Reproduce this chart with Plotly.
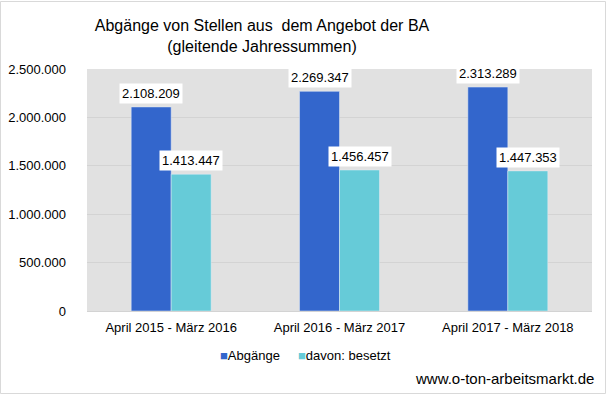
import plotly.graph_objects as go

categories = ["April 2015 - März 2016", "April 2016 - März 2017", "April 2017 - März 2018"]
abgaenge = [2108209, 2269347, 2313289]
besetzt = [1413447, 1456457, 1447353]
series_names = ["Abgänge", "davon: besetzt"]
tick_values = [0, 500000, 1000000, 1500000, 2000000, 2500000]

BLUE = "#3366cc"
CYAN = "#66cbd8"
FONT = "Liberation Sans, Arial, sans-serif"

W, H = 607, 395
L, R, T, B = 87, 15, 69, 84
pw, ph = W - L - R, H - T - B

fig = go.Figure()
fig.add_trace(go.Bar(x=categories, y=abgaenge, name=series_names[0], marker_color=BLUE, showlegend=False))
fig.add_trace(go.Bar(x=categories, y=besetzt, name=series_names[1], marker_color=CYAN, showlegend=False))

def fmt(v):
    return f"{v:,}".replace(",", ".")

for c, a, b in zip(categories, abgaenge, besetzt):
    for val, shift in ((a, -20), (b, 20)):
        fig.add_annotation(x=c, y=val, xref="x", yref="y", text=fmt(val),
                           showarrow=False, yanchor="bottom", xshift=shift, yshift=3,
                           bgcolor="white", borderpad=2,
                           font=dict(family=FONT, size=13, color="black"))

# custom legend
for name, color, xpos in ((series_names[0], BLUE, 218), (series_names[1], CYAN, 296)):
    fig.add_annotation(text=f"<span style='color:{color}'>■</span>{name}",
                       xref="paper", yref="paper",
                       x=(xpos - L) / pw, y=-(355 - (T + ph)) / ph,
                       xanchor="left", yanchor="middle", showarrow=False,
                       font=dict(family=FONT, size=13, color="black"))

# outer light-gray frame
fig.add_shape(type="rect", xref="paper", yref="paper",
              x0=(0.5 - L) / pw, x1=(W - 1.5 - L) / pw,
              y0=-(B - 1.5) / ph, y1=1 + (T - 1.5) / ph,
              line=dict(color="#d9d9d9", width=1), layer="below")

fig.add_annotation(text="www.o-ton-arbeitsmarkt.de", xref="paper", yref="paper",
                   x=(596 - L) / pw, y=-(378 - (T + ph)) / ph, xanchor="right", yanchor="middle",
                   showarrow=False, font=dict(family=FONT, size=15, color="black"))

fig.update_layout(
    width=W, height=H,
    margin=dict(l=L, r=R, t=T, b=B, autoexpand=False),
    paper_bgcolor="white",
    plot_bgcolor="#e1e1e1",
    separators=",.",
    barmode="group",
    bargap=0.525,
    bargroupgap=0,
    title=dict(text="Abgänge von Stellen aus  dem Angebot der BA<br>(gleitende Jahressummen)",
               x=262 / W, xanchor="center", xref="container",
               y=1 - 31 / H, yanchor="middle", yref="container",
               font=dict(family=FONT, size=16, color="black")),
    font=dict(family=FONT, size=13, color="black"),
    showlegend=False,
    yaxis=dict(range=[0, 2500000], tickvals=tick_values, tickformat=",d",
               gridcolor="#d3d3d3", gridwidth=1, zeroline=False,
               ticklabelstandoff=20, tickfont=dict(family=FONT, size=13, color="black"),
               showline=False, automargin=False),
    xaxis=dict(showline=True, linecolor="#d3d3d3", linewidth=1, tickangle=0,
               ticklabelstandoff=4,
               tickfont=dict(family=FONT, size=13, color="black"), ticks="",
               automargin=False),
)

fig.write_html("out.html", config={"displayModeBar": False},
               post_script="document.body.style.margin='0';document.body.style.padding='0';")
